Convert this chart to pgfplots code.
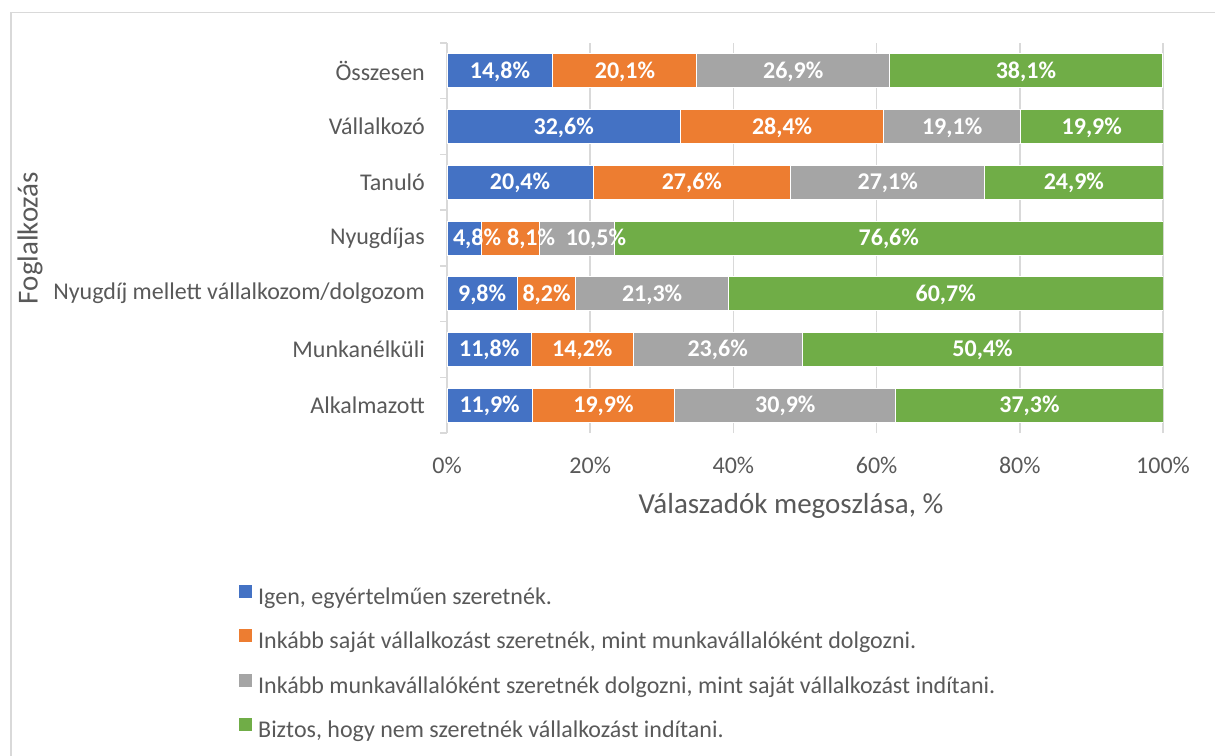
\documentclass[border=0pt]{standalone}
\usepackage{pgfplots}
\pgfplotsset{compat=1.18}
\usepackage{pgfplotstable}
\usepackage{fontspec}
\setmainfont{Carlito}
\definecolor{cblue}{HTML}{4472C4}
\definecolor{corange}{HTML}{ED7D31}
\definecolor{cgray}{HTML}{A5A5A5}
\definecolor{cgreen}{HTML}{70AD47}
\definecolor{ctext}{HTML}{595959}
\definecolor{cgrid}{HTML}{D9D9D9}

\pgfplotstableread{
idx a b c d oa ob oc od
0 11.9 19.9 30.9 37.3 0 0 0 0
1 11.8 14.2 23.6 50.4 0 0 0 0
2 9.8 8.2 21.3 60.7 0 0 0 0
3 4.8 8.1 10.5 76.6 1.8 2.9 2.65 0
4 20.4 27.6 27.1 24.9 0 0 0 0
5 32.6 28.4 19.1 19.9 0 0 0 0
6 14.8 20.1 26.9 38.1 0 0 0 0
}\data

\newcommand{\tickfont}{\fontsize{24}{28}\selectfont}
\newcommand{\titlefont}{\fontsize{29}{34}\selectfont}

\begin{document}
\begin{tikzpicture}[x=1pt,y=1pt]
\useasboundingbox (0,0) rectangle (1215,755);
\draw[cgrid, line width=1.5pt] (10.75,-20) -- (10.75,742.25) -- (1240,742.25);
\begin{axis}[
  at={(447pt,322pt)}, anchor=south west,
  scale only axis, width=716pt, height=390pt,
  xbar stacked, bar width=34pt,
  xmin=0, xmax=100, ymin=-0.5, ymax=6.5, enlargelimits=false,
  xtick={0,20,...,100},
  xticklabels={0\%,20\%,40\%,60\%,80\%,100\%},
  ytick={0,...,6},
  yticklabels={Alkalmazott,Munkanélküli,Nyugdíj mellett vállalkozom/dolgozom,Nyugdíjas,Tanuló,Vállalkozó,Összesen},
  minor ytick={-0.5,0.5,...,6.5},
  major tick length=0pt, minor tick length=7pt, tick align=outside,
  minor tick style={cgrid, line width=1.5pt},
  axis lines*=left,
  axis line style={-},
  x axis line style={draw=none},
  y axis line style={draw=cgrid, line width=1.5pt},
  xmajorgrids, major grid style={cgrid, line width=1.5pt},
  xticklabel style={font=\tickfont, text=ctext, inner sep=0pt, anchor=north, text height=16pt, text depth=0pt, yshift=-24pt},
  yticklabel style={font=\tickfont, text=ctext, inner sep=0pt, anchor=east, xshift=-22pt},
  xlabel={Válaszadók megoszlása, \%},
  xlabel style={at={(axis description cs:0.4804,-0.187)}, anchor=center, font=\titlefont, text=ctext},
  ylabel={Foglalkozás},
  ylabel style={at={(axis description cs:-0.5824,0.5)}, anchor=center, font=\titlefont, text=ctext},
  legend style={draw=none, fill=none, at={(axis description cs:-0.2919,-0.387)}, anchor=north west,
    font=\tickfont, text=ctext, inner sep=0pt, row sep=17.8pt,
    nodes={inner sep=0pt, text height=18pt, text depth=6pt},
    /tikz/every odd column/.append style={column sep=5pt}},
  legend cell align=left,
  legend image code/.code={\fill[#1] (0pt,0pt) rectangle (14pt,14pt);},
]
\addplot[fill=cblue, draw=white, line width=1pt] table[x=a, y=idx] {\data};
\addlegendentry{Igen, egyértelműen szeretnék.}
\addplot[fill=corange, draw=white, line width=1pt] table[x=b, y=idx] {\data};
\addlegendentry{Inkább saját vállalkozást szeretnék, mint munkavállalóként dolgozni.}
\addplot[fill=cgray, draw=white, line width=1pt] table[x=c, y=idx] {\data};
\addlegendentry{Inkább munkavállalóként szeretnék dolgozni, mint saját vállalkozást indítani.}
\addplot[fill=cgreen, draw=white, line width=1pt] table[x=d, y=idx] {\data};
\addlegendentry{Biztos, hogy nem szeretnék vállalkozást indítani.}
\end{axis}
\begin{axis}[
  at={(447pt,322pt)}, anchor=south west,
  scale only axis, width=716pt, height=390pt,
  xmin=0, xmax=100, ymin=-0.5, ymax=6.5, enlargelimits=false,
  hide axis, clip=false,
  point meta=explicit,
  nodes near coords={\pgfmathprintnumber[fixed,fixed zerofill,precision=1,use comma,assume math mode=true]{\pgfplotspointmeta}\%},
  nodes near coords align=center,
  every node near coord/.append style={anchor=center, font=\bfseries\tickfont, text=white, inner sep=0pt, text height=15pt, text depth=0pt},
]
\addplot[draw=none, mark=none] table[x expr=\thisrow{a}/2+\thisrow{oa}, y=idx, meta=a] {\data};
\addplot[draw=none, mark=none] table[x expr=\thisrow{a}+\thisrow{b}/2+\thisrow{ob}, y=idx, meta=b] {\data};
\addplot[draw=none, mark=none] table[x expr=\thisrow{a}+\thisrow{b}+\thisrow{c}/2+\thisrow{oc}, y=idx, meta=c] {\data};
\addplot[draw=none, mark=none] table[x expr=\thisrow{a}+\thisrow{b}+\thisrow{c}+\thisrow{d}/2+\thisrow{od}, y=idx, meta=d] {\data};
\end{axis}
\end{tikzpicture}
\end{document}
